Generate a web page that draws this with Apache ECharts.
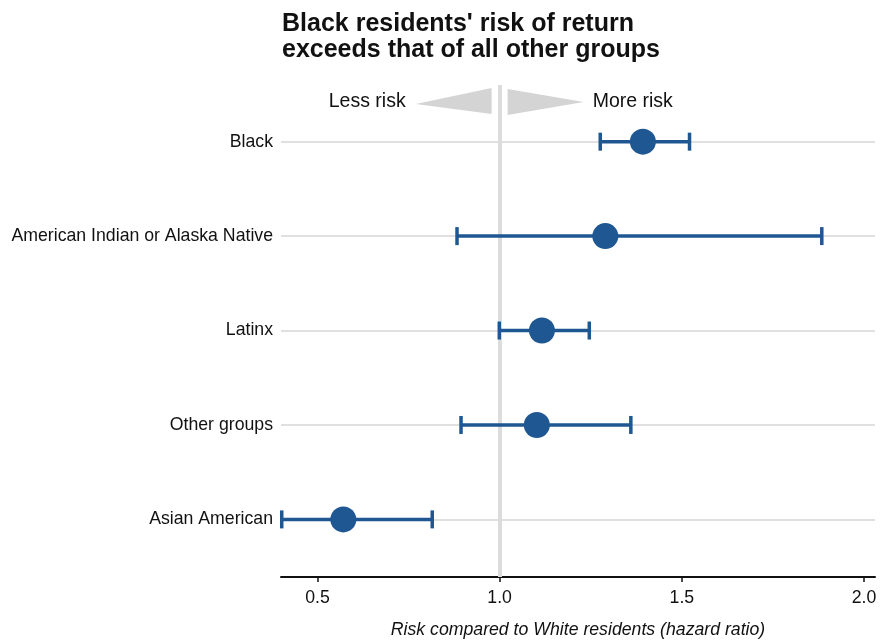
<!DOCTYPE html>
<html><head><meta charset="utf-8">
<script src="https://cdn.jsdelivr.net/npm/echarts@6/dist/echarts.min.js"></script>
<style>html,body{margin:0;padding:0;background:#fff}#c{width:886px;height:641px}</style>
</head><body><div id="c"></div>
<script>
// ---- data ----
const categories = ['Asian American', 'Other groups', 'Latinx', 'American Indian or Alaska Native', 'Black'];
const yPositions = [1, 2, 3, 4, 5];
const estimates = [0.571, 1.102, 1.116, 1.290, 1.393];
const lowerCI = [0.402, 0.894, 0.999, 0.883, 1.276];
const upperCI = [0.815, 1.360, 1.246, 1.884, 1.521];
const xTicks = [0.5, 1.0, 1.5, 2.0];
const arrowLabels = ['Less risk', 'More risk'];
const titleLines = ["Black residents' risk of return", 'exceeds that of all other groups'];
const xAxisTitle = 'Risk compared to White residents (hazard ratio)';

const BLUE = '#1e5791';
const FONT = '"Liberation Sans", Arial, Helvetica, sans-serif';

const pointData = estimates.map((v, i) => [v, yPositions[i]]);
const barData = yPositions.map((y, i) => [y, lowerCI[i], upperCI[i]]);

const chart = echarts.init(document.getElementById('c'), null, {renderer: 'canvas'});
chart.setOption({
  backgroundColor: '#fff',
  animation: false,
  textStyle: {fontFamily: FONT},
  title: {
    text: titleLines.join('\n'),
    left: 277, top: 6,
    textStyle: {fontSize: 25, fontWeight: 'bold', color: '#111', lineHeight: 26, fontFamily: FONT}
  },
  grid: {left: 281, right: 11, top: 85, bottom: 64, containLabel: false, outerBoundsMode: 'none'},
  xAxis: {
    type: 'value', min: 0.4, max: 2.03,
    name: xAxisTitle, nameLocation: 'middle', nameGap: 44,
    nameTextStyle: {fontStyle: 'italic', fontSize: 17.7, color: '#111', fontFamily: FONT},
    axisLine: {show: true, onZero: false, lineStyle: {color: '#111', width: 2}},
    axisTick: {show: true, customValues: xTicks, length: 5, lineStyle: {color: '#111', width: 1.5}},
    axisLabel: {customValues: xTicks, formatter: v => Number(v).toFixed(1), fontSize: 17.7, color: '#111', margin: 12, fontFamily: FONT},
    splitLine: {show: false}
  },
  yAxis: {
    type: 'value', min: 0.39, max: 5.6,
    axisLine: {show: false},
    axisTick: {show: false, customValues: yPositions},
    axisLabel: {customValues: yPositions, formatter: v => categories[Math.round(v) - 1] || '', fontSize: 17.7, color: '#111', margin: 8, fontFamily: FONT},
    splitLine: {show: true, lineStyle: {color: '#e0e0e0', width: 2}}
  },
  series: [
    {
      type: 'custom', z: 1, silent: true,
      data: [[1, 5.42]],
      renderItem: function (params, api) {
        const c = api.coord([api.value(0), api.value(1)]);
        const cx = c[0], cy = c[1];
        const grey = '#d4d4d4';
        return {type: 'group', children: [
          {type: 'polygon', shape: {points: [[cx - 8, cy - 14], [cx - 8, cy + 12], [cx - 84, cy + 2]]}, style: {fill: grey}},
          {type: 'polygon', shape: {points: [[cx + 8, cy - 13], [cx + 8, cy + 13], [cx + 84, cy]]}, style: {fill: grey}},
          {type: 'text', style: {text: arrowLabels[0], x: cx - 94, y: cy, align: 'right', verticalAlign: 'middle', fontSize: 19.5, fill: '#111', fontFamily: FONT}},
          {type: 'text', style: {text: arrowLabels[1], x: cx + 93, y: cy, align: 'left', verticalAlign: 'middle', fontSize: 19.5, fill: '#111', fontFamily: FONT}}
        ]};
      },
      markLine: {
        silent: true, symbol: 'none', label: {show: false}, z: 1,
        lineStyle: {color: '#dcdcdc', width: 4, type: 'solid'},
        data: [{xAxis: 1}]
      }
    },
    {
      type: 'custom', z: 3, silent: true,
      encode: {x: [1, 2], y: 0},
      data: barData,
      renderItem: function (params, api) {
        const y = api.value(0), lo = api.value(1), hi = api.value(2);
        const p1 = api.coord([lo, y]), p2 = api.coord([hi, y]);
        const h = 9;
        const st = {stroke: BLUE, lineWidth: 3.5};
        return {type: 'group', children: [
          {type: 'line', shape: {x1: p1[0], y1: p1[1], x2: p2[0], y2: p2[1]}, style: st},
          {type: 'line', shape: {x1: p1[0], y1: p1[1] - h, x2: p1[0], y2: p1[1] + h}, style: st},
          {type: 'line', shape: {x1: p2[0], y1: p2[1] - h, x2: p2[0], y2: p2[1] + h}, style: st}
        ]};
      }
    },
    {
      type: 'scatter', z: 4, silent: true,
      symbol: 'circle', symbolSize: 26,
      itemStyle: {color: BLUE, opacity: 1},
      data: pointData
    }
  ]
});
</script>
</body></html>
